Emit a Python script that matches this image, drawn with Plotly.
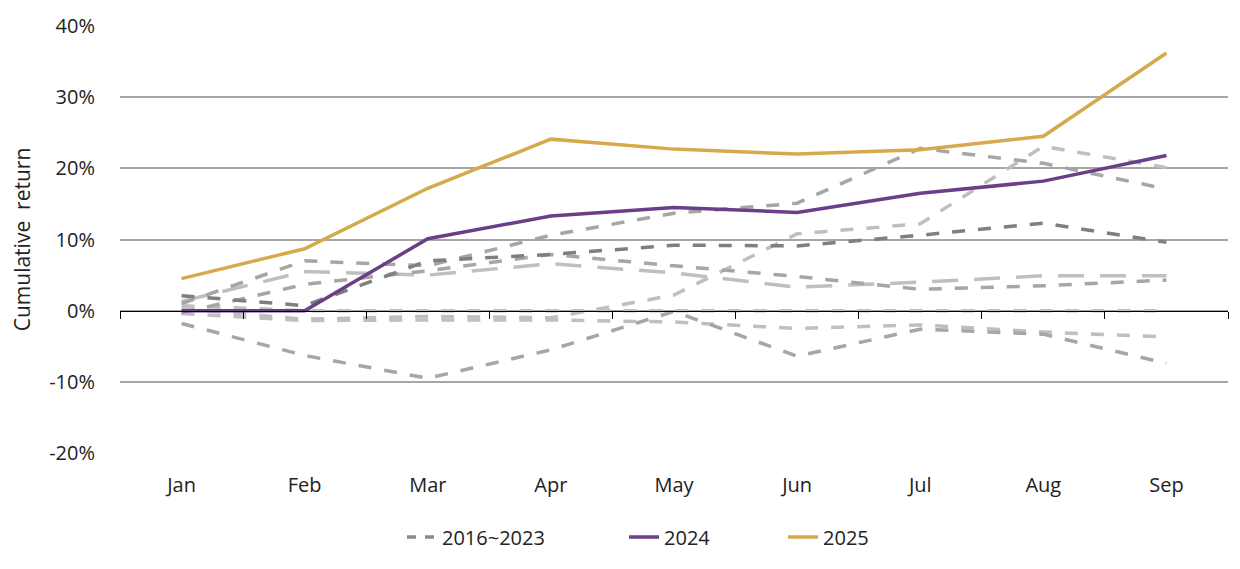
import plotly.graph_objects as go

months = ["Jan", "Feb", "Mar", "Apr", "May", "Jun", "Jul", "Aug", "Sep"]

# 2016~2023 (eight individual years, values in %)
hist_a = [1.0, 7.0, 6.3, 10.6, 13.7, 15.1, 22.8, 20.7, 17.1]
hist_b = [2.1, 0.7, 7.0, 7.9, 9.2, 9.1, 10.6, 12.3, 9.6]
hist_c = [-0.3, 3.7, 5.6, 7.9, 6.3, 4.8, 3.0, 3.5, 4.3]
hist_d = [1.3, 5.5, 5.0, 6.6, 5.3, 3.3, 4.0, 4.9, 4.9]
hist_e = [0.3, -1.2, -0.8, -1.0, 2.2, 10.8, 12.2, 23.1, 20.1]
hist_f = [-1.8, -6.3, -9.5, -5.5, -0.1, -6.4, -2.6, -3.3, -7.4]
hist_g = [-0.4, -1.4, -1.3, -1.3, -1.6, -2.5, -2.0, -3.0, -3.7]
hist_h = [0.7, 0.0, 0.0, 0.0, 0.0, 0.0, 0.0, 0.0, 0.0]

y2024 = [0.0, 0.0, 10.1, 13.3, 14.5, 13.8, 16.5, 18.2, 21.8]
y2025 = [4.5, 8.7, 17.2, 24.1, 22.7, 22.0, 22.6, 24.5, 36.2]

y_ticks = [-20, -10, 0, 10, 20, 30, 40]
y_tick_text = ["-20%", "-10%", "0%", "10%", "20%", "30%", "40%"]

DARK = "#7f7f7f"
MID = "#a6a6a6"
LIGHT = "#bfbfbf"
DASH = "13px,13px"
LONG = "26px,16px"

hist = [
    (hist_h, LIGHT, DASH),
    (hist_g, LIGHT, DASH),
    (hist_e, LIGHT, DASH),
    (hist_d, LIGHT, LONG),
    (hist_f, MID, DASH),
    (hist_c, MID, DASH),
    (hist_a, MID, DASH),
    (hist_b, DARK, DASH),
]

fig = go.Figure()
for vals, col, dash in hist:
    fig.add_trace(go.Scatter(x=months, y=vals, mode="lines",
                             line=dict(color=col, width=3.5, dash=dash),
                             showlegend=False, hoverinfo="skip"))

# legend entry for the historical group
fig.add_trace(go.Scatter(x=[None], y=[None], mode="lines", name="2016~2023",
                         legend="legend",
                         line=dict(color="#8c8c8c", width=3.5, dash="9px,9px")))

fig.add_trace(go.Scatter(x=months, y=y2024, mode="lines", name="2024",
                         legend="legend2",
                         line=dict(color="#6b3f87", width=3.5)))
fig.add_trace(go.Scatter(x=months, y=y2025, mode="lines", name="2025",
                         legend="legend3",
                         line=dict(color="#d6a94c", width=3.5)))

# invisible trace on x2 so the zero-level axis line draws
fig.add_trace(go.Scatter(x=months, y=[None] * len(months), xaxis="x2",
                         mode="lines", showlegend=False, hoverinfo="skip"))

leg_common = dict(orientation="h", xanchor="left", y=-0.197,
                  yanchor="middle", font=dict(size=20),
                  bgcolor="rgba(0,0,0,0)")

fig.update_layout(
    width=1224, height=553,
    margin=dict(l=112, r=4, t=16, b=106),
    paper_bgcolor="white", plot_bgcolor="white",
    font=dict(family="Open Sans", size=20, color="#222222"),
    xaxis=dict(type="category", categoryorder="array", categoryarray=months,
               range=[-0.5, 8.5], showgrid=False, showline=False,
               zeroline=False, ticks="outside", ticklen=14,
               tickcolor="rgba(0,0,0,0)", tickfont=dict(size=20)),
    xaxis2=dict(type="category", categoryorder="array", categoryarray=months,
                range=[-0.5, 8.5], overlaying="x", anchor="free",
                position=1/3, side="bottom", showline=True,
                linecolor="black", linewidth=1, ticks="outside",
                tickson="boundaries", ticklen=7, tickcolor="black",
                showticklabels=False, showgrid=False, zeroline=False),
    yaxis=dict(range=[-20, 40], tickvals=y_ticks, ticktext=y_tick_text,
               showgrid=True, gridcolor="#a6a6a6", gridwidth=2,
               zeroline=False, showline=False, ticks="outside", ticklen=20,
               tickcolor="rgba(0,0,0,0)", tickfont=dict(size=20),
               title=dict(text="Cumulative  return", font=dict(size=21),
                          standoff=12)),
    legend=dict(x=0.2545, **leg_common),
    legend2=dict(x=0.4549, **leg_common),
    legend3=dict(x=0.5984, **leg_common),
)

fig.write_html("out.html")
